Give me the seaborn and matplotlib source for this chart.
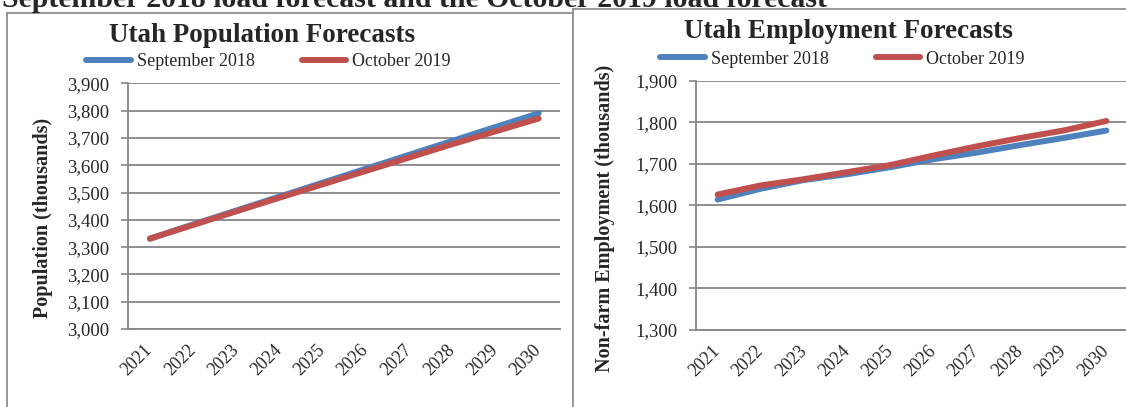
import numpy as np
import pandas as pd
import matplotlib
matplotlib.use('Agg')
import matplotlib.pyplot as plt
import matplotlib.ticker as mticker
from matplotlib.lines import Line2D
import seaborn as sns

# data (thousands)
years = [2021, 2022, 2023, 2024, 2025, 2026, 2027, 2028, 2029, 2030]
pop_sep2018 = [3331, 3383, 3434, 3485, 3536, 3587, 3638, 3689, 3740, 3790]
pop_oct2019 = [3331, 3381, 3431, 3481, 3530, 3579, 3628, 3677, 3724, 3771]
emp_sep2018 = [1614, 1640, 1661, 1675, 1692, 1711, 1727, 1745, 1762, 1780]
emp_oct2019 = [1626, 1648, 1663, 1680, 1697, 1720, 1742, 1762, 1780, 1803]
series_names = ['September 2018', 'October 2019']

sns.set_theme(style="white")
plt.rcParams['font.family'] = ['Liberation Serif', 'DejaVu Serif']

BLUE = '#4F81BD'
RED = '#C0504D'
GRAY = '#868686'
LW = 4.3
W, H = 1126, 407

fig = plt.figure(figsize=(W / 100, H / 100), dpi=100)


def fx(px):
    return px / W


def fy(py):
    return 1 - py / H


def draw_panel(ax, sep, octo, ymin, ymax, title, ylabel, title_xy, leg_xy, ylab_x):
    df = pd.DataFrame({'year': years * 2,
                       'value': sep + octo,
                       'series': [series_names[0]] * len(years) + [series_names[1]] * len(years)})
    sns.lineplot(data=df[df.series == series_names[0]], x='year', y='value', color=BLUE,
                 lw=LW, ax=ax, legend=False, zorder=3)
    sns.lineplot(data=df[df.series == series_names[1]], x='year', y='value', color=RED,
                 lw=LW, ax=ax, legend=False, zorder=4)

    ax.set_xlim(years[0] - 0.5, years[-1] + 0.5)
    ax.set_ylim(ymin, ymax)
    ax.set_yticks(np.arange(ymin, ymax + 1, 100))
    ax.yaxis.set_major_formatter(mticker.StrMethodFormatter('{x:,.0f}'))
    ax.set_xticks(years)
    ax.set_xticks(np.arange(years[0] - 0.5, years[-1] + 1, 1), minor=True)
    ax.set_xticklabels([str(y) for y in years], rotation=45, ha='right', va='center',
                       rotation_mode='anchor')
    ax.tick_params(axis='x', which='major', length=0, pad=13, labelsize=13)
    ax.tick_params(axis='x', which='minor', length=5, width=1.2, color=GRAY, direction='out')
    ax.tick_params(axis='y', length=5, width=1.2, color=GRAY, direction='out', pad=8.5,
                   labelsize=13.5, left=True)
    ax.grid(axis='y', color=GRAY, lw=1.3)
    ax.set_axisbelow(True)
    for s in ['top', 'right']:
        ax.spines[s].set_visible(False)
    for s in ['left', 'bottom']:
        ax.spines[s].set_color(GRAY)
        ax.spines[s].set_linewidth(1.3)
    ax.set_xlabel('')
    ax.set_ylabel('')

    fig.text(fx(title_xy[0]), fy(title_xy[1]), title, ha='center', va='center',
             fontsize=19.5, fontweight='bold')
    fig.text(fx(ylab_x), fy(218), ylabel, rotation=90, ha='center', va='center',
             fontsize=14.5, fontweight='bold')

    handles = [Line2D([], [], color=BLUE, lw=LW), Line2D([], [], color=RED, lw=LW)]
    ax.legend(handles, series_names, loc='center', ncol=2, frameon=False,
              bbox_to_anchor=(fx(leg_xy[0]), fy(leg_xy[1])), bbox_transform=fig.transFigure,
              fontsize=13, handlelength=2.45, handletextpad=0.35, columnspacing=2.6,
              borderpad=0, borderaxespad=0)


ax1 = fig.add_axes([fx(128.3), fy(329), fx(432), (329 - 83.3) / H])
draw_panel(ax1, pop_sep2018, pop_oct2019, 3000, 3900, 'Utah Population Forecasts',
           'Population (thousands)', (262, 35), (268.5, 61.5), 43)

ax2 = fig.add_axes([fx(696), fy(330), fx(432), (330 - 80.7) / H])
draw_panel(ax2, emp_sep2018, emp_oct2019, 1300, 1900, 'Utah Employment Forecasts',
           'Non-farm Employment (thousands)', (848, 32), (842.5, 59), 605)

# panel frames
for xs, ys in [([6.7, 6.7], [13.3, H]), ([6.7, 572.7], [13.3, 13.3]),
               ([572.7, 572.7], [9, H]), ([572.7, W], [9, 9])]:
    fig.add_artist(Line2D([fx(x) for x in xs], [fy(y) for y in ys], color=GRAY, lw=1.2,
                          transform=fig.transFigure))

# clipped caption line from the page above the charts (cut off in the reference too)
fig.text(fx(2), fy(7), 'September 2018 load forecast and the October 2019 load forecast',
         ha='left', va='baseline', fontsize=21.4, fontweight='bold')

fig.savefig('out.png', dpi=100)
